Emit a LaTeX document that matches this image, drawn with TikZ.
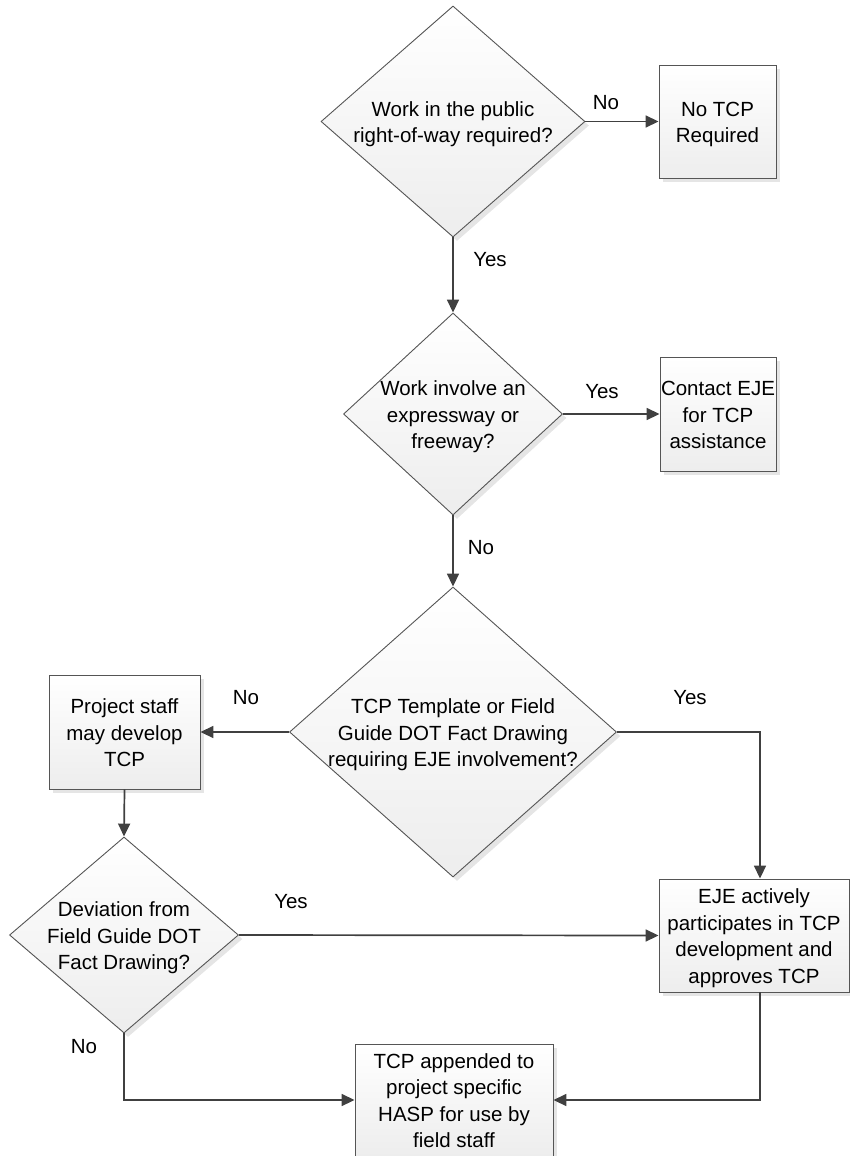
\documentclass[tikz,border=0pt]{standalone}
\usepackage{fontspec}
\setmainfont{Liberation Sans}
\usetikzlibrary{arrows.meta,shapes.geometric,shadows}
\definecolor{linegray}{HTML}{404040}
\definecolor{edgegray}{HTML}{555555}
\newcommand{\celltext}[1]{\raisebox{-8pt}[0pt][0pt]{\makebox[0pt]{\begin{tabular}{@{}c@{}}#1\end{tabular}}}}

\begin{document}
\begin{tikzpicture}[x=1pt,y=-1pt,
    every node/.style={font=\fontsize{20.5}{26.5}\selectfont},
    shadebox/.style={draw=edgegray, line width=0.9pt, top color=white, bottom color=black!7,
      drop shadow={shadow xshift=4pt, shadow yshift=-4pt, fill=black!10, opacity=1}},
    stepbox/.style={shadebox, rectangle, inner sep=0pt},
    decision/.style={shadebox, diamond, inner sep=0pt},
    flow/.style={draw=linegray, line width=1.7pt, -{Triangle[length=13pt,width=12pt]}},
    answer/.style={inner sep=0pt}]
  \useasboundingbox (0,0) rectangle (849,1156);
  % decisions
  \node[decision, minimum width=264, minimum height=231] (public) at (453,121.5)
    {\celltext{Work in the public\\right-of-way required?}};
  \node[decision, minimum width=219, minimum height=202] (freeway) at (453,414)
    {\celltext{Work involve an\\expressway or\\freeway?}};
  \node[decision, minimum width=327, minimum height=290] (template) at (453,732)
    {\celltext{TCP Template or Field\\Guide DOT Fact Drawing\\requiring EJE involvement?}};
  \node[decision, minimum width=229, minimum height=196] (deviation) at (124,935)
    {\celltext{Deviation from\\Field Guide DOT\\Fact Drawing?}};
  % boxes
  \node[stepbox, minimum width=117, minimum height=113] (notcp) at (717.5,121.5)
    {\celltext{No TCP\\Required}};
  \node[stepbox, minimum width=116, minimum height=114] (contact) at (718,414)
    {\celltext{Contact EJE\\for TCP\\assistance}};
  \node[stepbox, minimum width=151, minimum height=114] (staff) at (124.5,732)
    {\celltext{Project staff\\may develop\\TCP}};
  \node[stepbox, minimum width=190, minimum height=113] (eje) at (754,935.5)
    {\celltext{EJE actively\\participates in TCP\\development and\\approves TCP}};
  \node[stepbox, minimum width=198, minimum height=112] (tcp) at (454,1100)
    {\celltext{TCP appended to\\project specific\\HASP for use by\\field staff}};
  % answers
  \node[answer] (no1) at (606,103) {No};
  \node[answer] (yes1) at (490,260) {Yes};
  \node[answer] (yes2) at (602,392) {Yes};
  \node[answer] (no2) at (481,548) {No};
  \node[answer] (no3) at (246,698) {No};
  \node[answer] (yes3) at (690,698) {Yes};
  \node[answer] (yes4) at (291,902) {Yes};
  \node[answer] (no4) at (84,1047) {No};
  % connectors
  \draw[flow] (public.east) -- (notcp.west);
  \draw[flow] (public.south) -- (freeway.north);
  \draw[flow] (freeway.east) -- (contact.west);
  \draw[flow] (freeway.south) -- (template.north);
  \draw[flow] (template.west) -- (staff.east);
  \draw[flow] (template.east) -| ([xshift=6pt]eje.north);
  \draw[flow] (staff.south) -- (deviation.north);
  \draw[flow] (deviation.east) -- (eje.west);
  \draw[flow] (deviation.south) |- (tcp.west);
  \draw[flow] ([xshift=6pt]eje.south) |- (tcp.east);
\end{tikzpicture}
\end{document}
